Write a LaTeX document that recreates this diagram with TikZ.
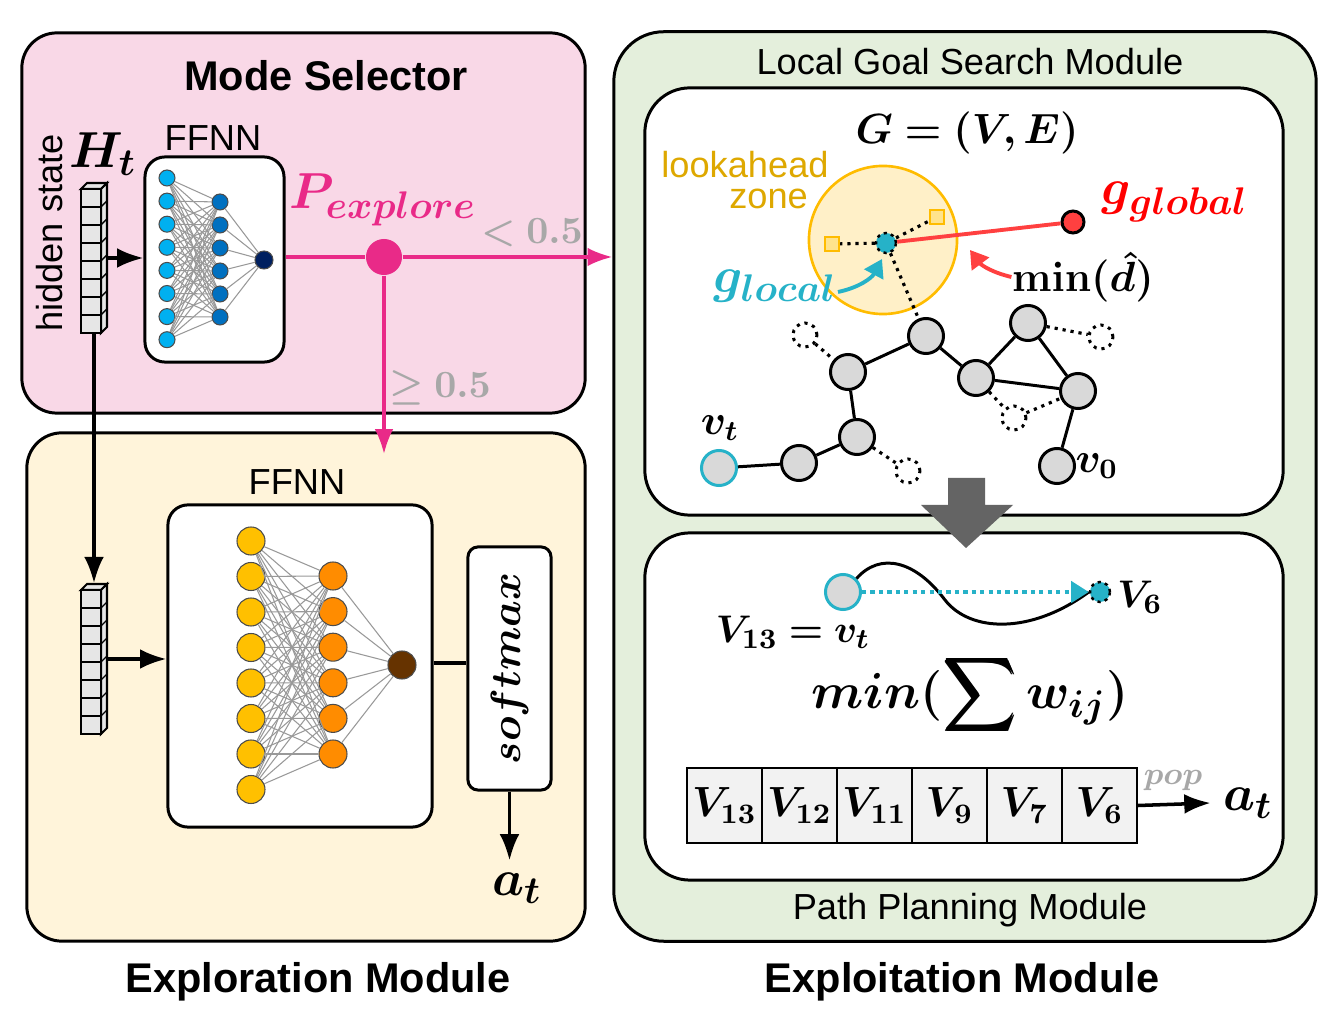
\documentclass[tikz,border=0pt]{standalone}
\usepackage[no-math]{fontspec}
\setmainfont{Liberation Sans}
\usepackage{amsmath,bm}
\usetikzlibrary{arrows.meta,positioning}

\definecolor{pinkbg}{RGB}{249,216,231}
\definecolor{creambg}{RGB}{255,244,218}
\definecolor{greenbg}{RGB}{228,239,220}
\definecolor{pinkc}{RGB}{233,42,136}
\definecolor{graytxt}{RGB}{168,168,168}
\definecolor{cyanA}{RGB}{0,176,240}
\definecolor{blueB}{RGB}{0,112,192}
\definecolor{navyC}{RGB}{0,32,96}
\definecolor{yellowA}{RGB}{255,192,0}
\definecolor{orangeB}{RGB}{255,140,0}
\definecolor{brownC}{RGB}{102,51,0}
\definecolor{tealc}{RGB}{38,178,200}
\definecolor{redc}{RGB}{255,64,64}
\definecolor{zonec}{RGB}{255,188,0}
\definecolor{zonefill}{RGB}{255,240,200}
\definecolor{zonetxt}{RGB}{222,168,0}
\definecolor{nodegray}{RGB}{217,217,217}
\definecolor{cellgray}{RGB}{230,230,230}
\definecolor{qgray}{RGB}{242,242,242}
\definecolor{arrowgray}{RGB}{100,100,100}

\begin{document}
\begin{tikzpicture}[x=0.01cm, y=-0.01cm,
  box/.style={draw, line width=0.85pt, rounded corners=0.35cm, inner sep=0pt},
  nnbox/.style={draw, fill=white, line width=0.85pt, rounded corners=0.2cm, inner sep=0pt},
  neuron/.style={circle, draw=black!70, line width=0.3pt, inner sep=0pt},
  link/.style={black!40, line width=0.3pt},
  gnode/.style={circle, draw, line width=0.85pt, fill=nodegray, minimum size=0.35cm, inner sep=0pt},
  ghost/.style={circle, draw, line width=0.85pt, dash pattern=on 0.9pt off 1.4pt, minimum size=0.24cm, inner sep=0pt},
  dotedge/.style={line width=0.9pt, dash pattern=on 0.9pt off 1.4pt},
  edge/.style={line width=0.85pt},
  pinkline/.style={pinkc, line width=0.9pt},
  qcell/.style={draw, line width=0.6pt, fill=qgray, minimum width=0.75cm, minimum height=0.75cm, inner sep=0pt},
  sans/.style={font=\fontsize{10.3}{12}\selectfont},
  title/.style={font=\fontsize{11.8}{14}\selectfont\bfseries}
]
\useasboundingbox (0,0) rectangle (1336,1010);

% module boxes
\node[box, fill=pinkbg, minimum width=5.63cm, minimum height=3.8cm] (mode) at (303.5,223) {};
\node[box, fill=creambg, minimum width=5.58cm, minimum height=5.08cm] (explore) at (306,687) {};
\node[box, fill=greenbg, rounded corners=0.5cm, minimum width=7.02cm, minimum height=9.09cm] (exploit) at (965,486.5) {};
\node[box, fill=white, rounded corners=0.45cm, minimum width=6.38cm, minimum height=4.27cm] (lgs) at (964,301.5) {};
\node[box, fill=white, rounded corners=0.45cm, minimum width=6.38cm, minimum height=3.47cm] (pp) at (964,706.5) {};

\node[title] at (326,76) {Mode Selector};
\node[title] at (318,982) {Exploration Module};
\node[title] at (962,982) {Exploitation Module};
\node[sans] at (970,62) {Local Goal Search Module};
\node[sans] at (970,910) {Path Planning Module};

% hidden state vectors
\node[sans, rotate=90] at (50,233) {hidden state};
\node[font=\fontsize{15}{17}\selectfont] at (103,154) {$\bm{H_t}$};
\node[minimum width=0.26cm, minimum height=1.5cm, inner sep=0pt] (stackA) at (94,258) {};
\node[minimum width=0.26cm, minimum height=1.5cm, inner sep=0pt] (stackB) at (94,659) {};
\foreach \sy in {189,590} {
  \draw[fill=cellgray, line width=0.6pt] (81,\sy) -- ++(6,-6) -- ++(20,0) -- ++(-6,6) -- cycle;
  \draw[fill=cellgray, line width=0.6pt] (101,\sy) -- ++(6,-6) -- ++(0,144) -- ++(-6,6) -- cycle;
  \foreach \k in {0,...,7} {
    \draw[fill=cellgray, line width=0.6pt] (81,{\sy+18*\k}) rectangle ++(20,18);
    \draw[line width=0.4pt] (101,{\sy+18*\k}) -- ++(6,-6);
  }
}

% FFNN of the mode selector
\node[nnbox, minimum width=1.39cm, minimum height=2.05cm] (ffA) at (214.5,259.5) {};
\node[sans] at (213,138) {FFNN};
\foreach \i in {1,...,8}
  \node[neuron, fill=cyanA, minimum size=0.16cm] (ma\i) at (167,{178+23.1*(\i-1)}) {};
\foreach \j in {1,...,6}
  \node[neuron, fill=blueB, minimum size=0.16cm] (mb\j) at (220,{202+23*(\j-1)}) {};
\node[neuron, fill=navyC, minimum size=0.18cm] (mout) at (264,260) {};
\foreach \i in {1,...,8}
  \foreach \j in {1,...,6}
    \draw[link] (ma\i) -- (mb\j);
\foreach \j in {1,...,6}
  \draw[link] (mb\j) -- (mout);

\draw[-{Latex}, line width=1pt] (stackA.east) -- (stackA.east -| ffA.west);
\draw[-{Latex}, line width=1pt] (stackA.south) -- (stackB.north);

% mode switch
\node[circle, fill=pinkc, minimum size=0.36cm, inner sep=0pt] (pdot) at (384,257) {};
\draw[pinkline] (ffA.east |- pdot) -- (pdot);
\draw[pinkline, -{Latex}] (pdot) -- (pdot -| exploit.west);
\draw[pinkline, -{Latex}] (pdot) -- (384,454);
\node[text=pinkc, font=\fontsize{15}{17}\selectfont] at (383,200) {$\bm{P_{explore}}$};
\node[text=graytxt, font=\fontsize{11}{13}\selectfont] at (532,233) {$\bm{<0.5}$};
\node[text=graytxt, font=\fontsize{11}{13}\selectfont] at (440,388) {$\bm{\geq 0.5}$};

% FFNN of the exploration module
\node[nnbox, minimum width=2.64cm, minimum height=3.22cm] (ffB) at (300,666) {};
\node[sans] at (297,482) {FFNN};
\foreach \i in {1,...,8}
  \node[neuron, fill=yellowA, minimum size=0.28cm] (xa\i) at (251,{541+35.5*(\i-1)}) {};
\foreach \j in {1,...,6}
  \node[neuron, fill=orangeB, minimum size=0.28cm] (xb\j) at (333,{576+35.6*(\j-1)}) {};
\node[neuron, fill=brownC, minimum size=0.28cm] (xout) at (402,665) {};
\foreach \i in {1,...,8}
  \foreach \j in {1,...,6}
    \draw[link] (xa\i) -- (xb\j);
\foreach \j in {1,...,6}
  \draw[link] (xb\j) -- (xout);

\draw[-{Latex}, line width=1pt] (stackB.east) -- (stackB.east -| ffB.west);
\node[nnbox, rounded corners=0.1cm, minimum width=0.83cm, minimum height=2.43cm] (soft) at (509.5,668.5) {};
\node[rotate=90, font=\fontsize{13}{15}\selectfont] at (soft) {$\bm{softmax}$};
\draw[line width=1pt] (ffB.east |- 0,663) -- (soft.west |- 0,663);
\node[font=\fontsize{15}{17}\selectfont] (atL) at (517,888) {$\bm{a_t}$};
\draw[-{Latex}, line width=1pt] (soft.south) -- (atL.north -| soft.south);

% local goal search
\node[font=\fontsize{13}{15}\selectfont] at (967,133) {$\bm{G=(V,E)}$};
\node[sans, text=zonetxt, align=center] at (745,180) {lookahead\\[-3pt]\hspace*{1.3em}zone};
\node[circle, draw=zonec, fill=zonefill, line width=0.75pt, minimum size=1.48cm] (zone) at (883,240) {};
\node[draw=zonec, fill=yellowA!45, line width=0.6pt, minimum size=0.14cm, inner sep=0pt] (sqA) at (832,244) {};
\node[draw=zonec, fill=yellowA!45, line width=0.6pt, minimum size=0.14cm, inner sep=0pt] (sqB) at (937,217) {};
\node[circle, fill=tealc, draw, dash pattern=on 0.9pt off 1.2pt, line width=0.7pt, minimum size=0.2cm, inner sep=0pt] (gloc) at (886,243) {};
\node[circle, fill=redc, draw, line width=0.85pt, minimum size=0.22cm, inner sep=0pt] (gglob) at (1073,222) {};
\draw[dotedge] (gloc) -- (sqA);
\draw[dotedge] (gloc) -- (sqB);
\draw[redc, line width=1.1pt] (gloc) -- (gglob);
\node[text=red, inner sep=0pt, font=\fontsize{15}{17}\selectfont] at (1175,202) {$\bm{g_{global}}$};
\node[inner sep=0pt, font=\fontsize{12}{14}\selectfont] (mind) at (1083,277) {$\bm{\min(\hat{d})}$};
\draw[redc, line width=1.1pt, -{Triangle[length=5pt,width=6pt]}] (mind.west) to[bend left=20] (970,250);
\node[text=tealc, font=\fontsize{15}{17}\selectfont] (glocl) at (775,286) {$\bm{g_{local}}$};
\draw[tealc, line width=1.1pt, -{Triangle[length=5pt,width=6pt]}] (838,292) to[bend right=25] (882,259);

% graph
\node[gnode] (n1) at (926,336) {};
\node[gnode] (n2) at (848,372) {};
\node[gnode] (n3) at (976,378) {};
\node[gnode] (n4) at (1028,323) {};
\node[gnode] (n5) at (1078,391) {};
\node[gnode] (n6) at (857,437) {};
\node[gnode] (n7) at (799,463) {};
\node[gnode, draw=tealc] (vt) at (719,468) {};
\node[gnode] (v0) at (1057,466) {};
\node[ghost] (d1) at (805,335) {};
\node[ghost] (d2) at (1101,337) {};
\node[ghost] (d3) at (1014,418) {};
\node[ghost] (d4) at (908,471) {};
\foreach \a/\b in {vt/n7, n7/n6, n6/n2, n2/n1, n1/n3, n3/n4, n4/n5, n3/n5, n5/v0}
  \draw[edge] (\a) -- (\b);
\foreach \a/\b in {gloc/n1, d1/n2, n4/d2, n3/d3, d3/n5, n6/d4}
  \draw[dotedge] (\a) -- (\b);
\node[font=\fontsize{12}{14}\selectfont] at (720,428) {$\bm{v_t}$};
\node[font=\fontsize{12}{14}\selectfont] at (1097,466) {$\bm{v_0}$};

% hand-over arrow
\fill[arrowgray] (948,478) -- (985,478) -- (985,505) -- (1013,505) -- (966,548) -- (921,505) -- (948,505) -- cycle;

% path planning
\node[gnode, draw=tealc] (v13) at (843,592) {};
\node[circle, fill=tealc, draw, dash pattern=on 0.9pt off 1.2pt, line width=0.7pt, minimum size=0.2cm, inner sep=0pt] (v6) at (1100,592) {};
\draw[line width=0.85pt] (v13.north east) .. controls (880,552) and (915,560) .. (945,600) .. controls (970,632) and (1030,635) .. (v6.west);
\draw[tealc, line width=1.1pt, dash pattern=on 1.2pt off 1.2pt, -{Triangle[length=5pt,width=6pt]}] (v13) -- (v6);
\node[font=\fontsize{11}{13}\selectfont] at (1140,597) {$\bm{V_6}$};
\node[font=\fontsize{11}{13}\selectfont] at (793,632) {$\bm{V_{13}=v_t}$};
\node[font=\fontsize{15}{17}\selectfont] at (970,695) {$\displaystyle\bm{min(\sum w_{ij})}$};
\foreach \v [count=\k] in {13,12,11,9,7,6}
  \node[qcell] (q\k) at ({649.5+75*\k},805.5) {\fontsize{12}{14}\selectfont$\bm{V_{\v}}$};
\node[font=\fontsize{15}{17}\selectfont] (atR) at (1248,803) {$\bm{a_t}$};
\draw[-{Latex}, line width=1pt] (q6.east) -- (atR.west);
\node[text=graytxt, font=\fontsize{9}{11}\selectfont] at (1173,781) {$\bm{pop}$};
\end{tikzpicture}
\end{document}
